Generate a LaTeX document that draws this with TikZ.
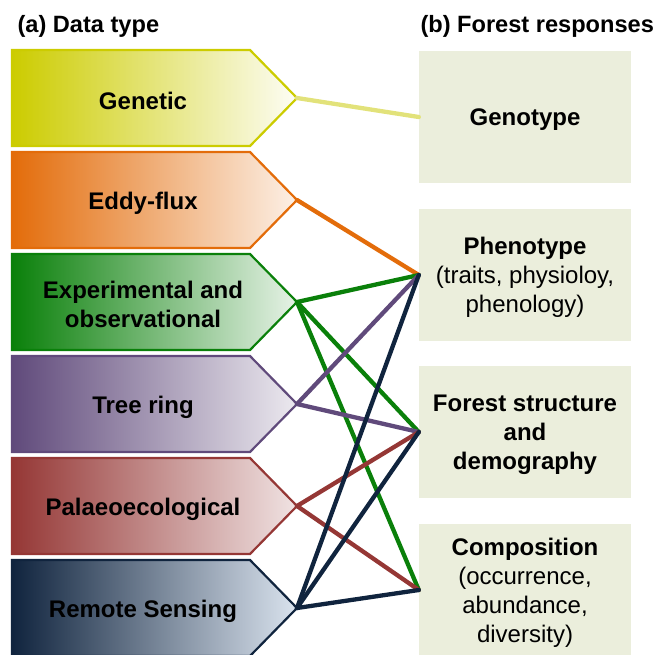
\documentclass[tikz,border=0pt]{standalone}
\usepackage{fontspec}
\setmainfont{Liberation Sans}
\definecolor{genyellow}{HTML}{CCCC00}
\definecolor{genlink}{HTML}{E2E27A}
\definecolor{eddyorange}{HTML}{E36C0A}
\definecolor{expgreen}{HTML}{0A800A}
\definecolor{treepurple}{HTML}{604A7B}
\definecolor{palred}{HTML}{953735}
\definecolor{remnavy}{HTML}{10243E}
\definecolor{remlight}{HTML}{DAE3EE}
\definecolor{respgreen}{HTML}{EBEEDC}
\tikzstyle{dtype}=[line width=2.2pt, line join=miter]
\tikzstyle{dlabel}=[font=\fontsize{24}{29}\selectfont\bfseries, align=center, inner sep=0]
\tikzstyle{resp}=[fill=respgreen, minimum width=212pt, minimum height=132pt, inner sep=0, align=center]
\tikzstyle{rlabel}=[align=center, inner sep=0]
\tikzstyle{link}=[line width=4.3pt, line cap=round]

\begin{document}
\begin{tikzpicture}[x=1pt, y=-1pt, font=\fontsize{24}{29}\selectfont]
\useasboundingbox (0,0) rectangle (666,654);

\node [anchor=base west, font=\fontsize{23.6}{29}\selectfont\bfseries] (ha) at (14,32) {(a) Data type};
\node [anchor=base west, font=\fontsize{23.6}{29}\selectfont\bfseries] (hb) at (417,32) {(b) Forest responses};

% data types
\draw [dtype, draw=genyellow, left color=genyellow, right color=genyellow!4!white] (12,50) -- (250,50) -- (297,98) -- (250,146) -- (12,146) -- cycle;
\draw [dtype, draw=eddyorange, left color=eddyorange, right color=eddyorange!10!white] (12,152) -- (250,152) -- (297,200) -- (250,248) -- (12,248) -- cycle;
\draw [dtype, draw=expgreen, left color=expgreen, right color=expgreen!10!white] (12,254) -- (250,254) -- (297,302) -- (250,350) -- (12,350) -- cycle;
\draw [dtype, draw=treepurple, left color=treepurple, right color=treepurple!12!white] (12,356) -- (250,356) -- (297,404) -- (250,452) -- (12,452) -- cycle;
\draw [dtype, draw=palred, left color=palred, right color=palred!14!white] (12,458) -- (250,458) -- (297,506) -- (250,554) -- (12,554) -- cycle;
\draw [dtype, draw=remnavy, left color=remnavy, right color=remlight] (12,560) -- (250,560) -- (297,608) -- (250,656) -- (12,656) -- cycle;

\coordinate (gen) at (297,98);
\coordinate (eddy) at (297,200);
\coordinate (exp) at (297,302);
\coordinate (tree) at (297,404);
\coordinate (pal) at (297,506);
\coordinate (rem) at (297,608);

\node [dlabel] (genl) at (143,101) {Genetic};
\node [dlabel] (eddyl) at (143,203) {Eddy-flux};
\node [dlabel] (expl) at (143,304) {Experimental and\\observational};
\node [dlabel] (treel) at (143,407) {Tree ring};
\node [dlabel] (pall) at (143,509) {Palaeoecological};
\node [dlabel] (reml) at (143,611) {Remote Sensing};

% forest responses
\node [resp] (geno) at (525,117) {};
\node [resp] (pheno) at (525,275) {};
\node [resp] (fsd) at (525,432) {};
\node [resp] (comp) at (525,590) {};

\node [rlabel] (genot) at (525,120) {\textbf{Genotype}};
\node [rlabel] (phenot) at (525,277) {\textbf{Phenotype}\\(traits, physioloy,\\phenology)};
\node [rlabel] (fsdt) at (525,435) {\textbf{Forest structure}\\\textbf{and}\\\textbf{demography}};
\node [rlabel] (compt) at (525,593) {\textbf{Composition}\\(occurrence,\\abundance,\\diversity)};

% links
\draw [link, genlink] (gen) -- (geno.west);
\draw [link, eddyorange] (eddy) -- (pheno.west);
\draw [link, expgreen] (exp) -- (pheno.west);
\draw [link, expgreen] (exp) -- (fsd.west);
\draw [link, expgreen] (exp) -- (comp.west);
\draw [link, treepurple] (tree) -- (pheno.west);
\draw [link, treepurple] (tree) -- (fsd.west);
\draw [link, palred] (pal) -- (fsd.west);
\draw [link, palred] (pal) -- (comp.west);
\draw [link, remnavy] (rem) -- (pheno.west);
\draw [link, remnavy] (rem) -- (fsd.west);
\draw [link, remnavy] (rem) -- (comp.west);

\end{tikzpicture}
\end{document}
